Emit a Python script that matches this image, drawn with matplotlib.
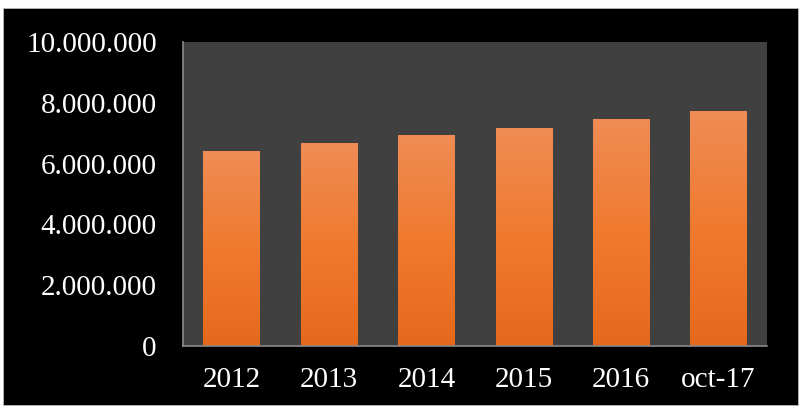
import numpy as np
import matplotlib.pyplot as plt
from matplotlib.patches import Rectangle
from matplotlib.colors import LinearSegmentedColormap
from matplotlib.ticker import FuncFormatter

categories = ['2012', '2013', '2014', '2015', '2016', 'oct-17']
values = [6410000, 6680000, 6940000, 7170000, 7470000, 7740000]
yticks = [0, 2000000, 4000000, 6000000, 8000000, 10000000]

plt.rcParams['font.family'] = ['Liberation Serif', 'DejaVu Serif']

fig = plt.figure(figsize=(8.06, 4.11), dpi=100, facecolor='white')
# black frame behind the chart
fig.patches.append(Rectangle((3 / 806, 6 / 411), 795 / 806, 397 / 411,
                             transform=fig.transFigure, facecolor='black',
                             edgecolor='#bbbbbb', linewidth=0.6, zorder=-5))

ax = fig.add_axes([0.227, 0.158, 0.725, 0.74])
ax.set_zorder(1)
ax.set_facecolor('#404040')

x = np.arange(len(categories))
bars = ax.bar(x, values, width=0.58, color='none', edgecolor='none', zorder=2)

cmap = LinearSegmentedColormap.from_list('org', ['#E5691D', '#F07A2E', '#EF8C55'])
grad = np.linspace(0, 1, 256).reshape(-1, 1)
for b in bars:
    x0, w, h = b.get_x(), b.get_width(), b.get_height()
    im = ax.imshow(grad, cmap=cmap, origin='lower', aspect='auto',
                   extent=[x0, x0 + w, 0, h], zorder=2)
    im.set_clip_path(b)

ax.set_xlim(-0.5, len(categories) - 0.5)
ax.set_ylim(0, 10000000)
ax.set_yticks(yticks)
ax.yaxis.set_major_formatter(FuncFormatter(lambda v, p: f'{int(v):,}'.replace(',', '.')))
ax.set_xticks(x)
ax.set_xticklabels(categories)

for s in ['top', 'right']:
    ax.spines[s].set_visible(False)
for s in ['left', 'bottom']:
    ax.spines[s].set_color('#8a8a8a')
    ax.spines[s].set_linewidth(1.2)

ax.tick_params(axis='y', length=0, pad=19, labelsize=21, labelcolor='white')
ax.tick_params(axis='x', length=0, pad=15, labelsize=21, labelcolor='white')

fig.savefig('out.png', dpi=100, facecolor='white')
